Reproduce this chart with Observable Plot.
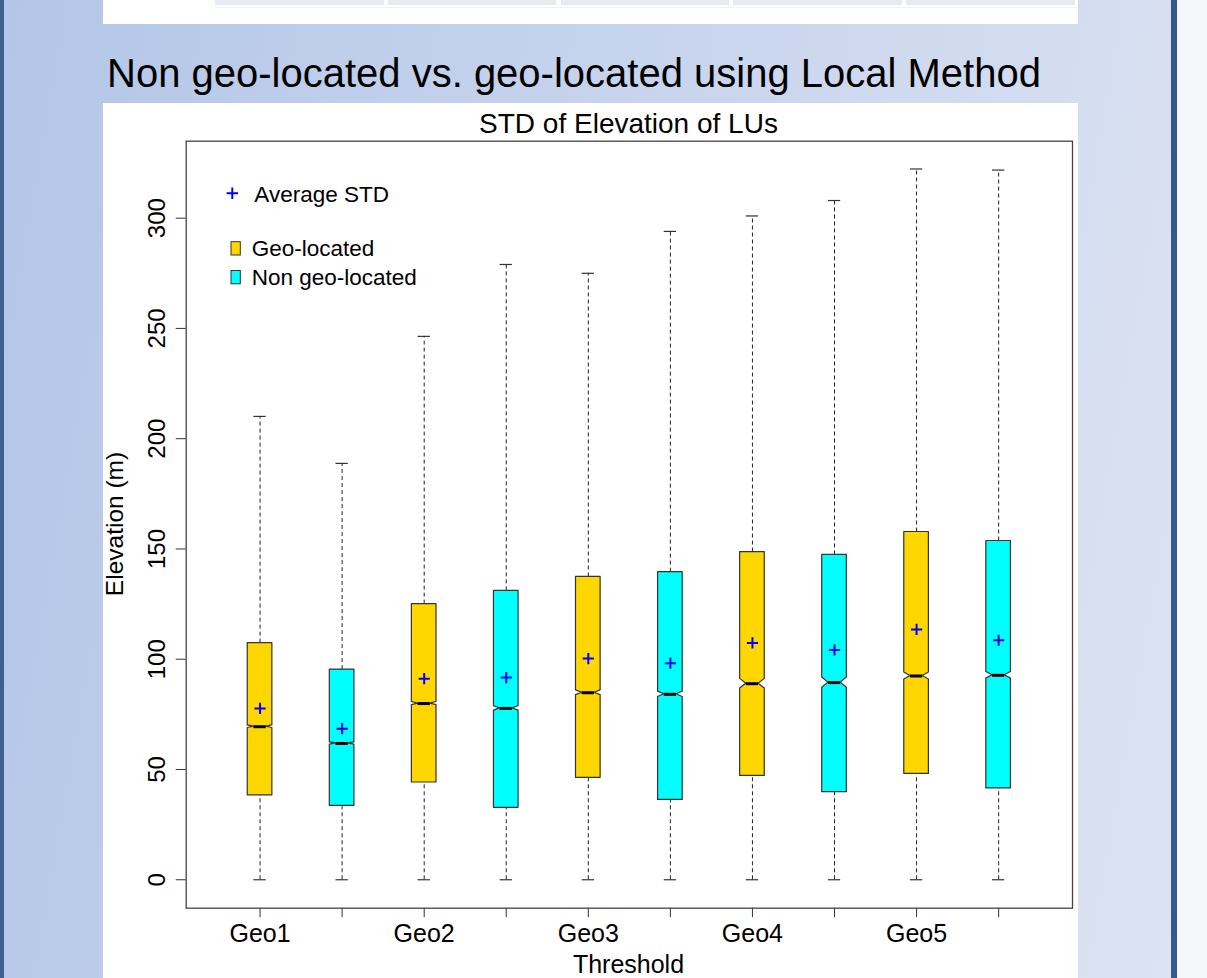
<!DOCTYPE html>
<html>
<head>
<meta charset="utf-8">
<script src="https://cdn.jsdelivr.net/npm/d3@7"></script>
<script src="https://cdn.jsdelivr.net/npm/@observablehq/plot@0.6"></script>
<style>
  html, body { margin: 0; padding: 0; }
  body {
    width: 1207px; height: 978px; overflow: hidden; position: relative;
    background: #f5f6f8;
    font-family: "Liberation Sans", Arial, sans-serif;
  }
  #slide {
    position: absolute; left: 0; top: 0; width: 1171px; height: 978px;
    background: linear-gradient(100deg, #b3c6e7 0%, #c6d3ed 45%, #dce3f2 100%);
  }
  #edgeL { position: absolute; left: 0; top: 0; width: 4px; height: 978px; background: #41608f; }
  #edgeR { position: absolute; left: 1171px; top: 0; width: 6px; height: 978px; background: #35598a; }
  #tablePanel { position: absolute; left: 103px; top: 0; width: 975px; height: 24px; background: #fff; }
  .cell { position: absolute; top: 0; height: 5px; background: #e6ebf3; }
  #tableRule { position: absolute; left: 112px; top: 7px; width: 862px; height: 1px; background: #eef1f6; }
  #chartPanel { position: absolute; left: 103px; top: 103px; width: 975px; height: 875px; background: #fff; }
  #chart { position: absolute; left: 103px; top: 103px; }
  #overlay { position: absolute; left: 0; top: 0; pointer-events: none; }
</style>
</head>
<body>
<div id="slide"></div>
<div id="edgeL"></div>
<div id="edgeR"></div>
<div id="tablePanel">
  <div class="cell" style="left:112px;width:169px"></div>
  <div class="cell" style="left:285px;width:168px"></div>
  <div class="cell" style="left:458px;width:168px"></div>
  <div class="cell" style="left:630px;width:169px"></div>
  <div class="cell" style="left:803px;width:169px"></div>
  <div id="tableRule"></div>
</div>
<div id="chartPanel"></div>
<div id="chart"></div>
<svg id="overlay" width="1207" height="978"></svg>

<script>
// Thresholds and the two groups compared at each one
const thresholds = ["Geo1", "Geo2", "Geo3", "Geo4", "Geo5"];
const seriesNames = ["Geo-located", "Non geo-located"];
const seriesColors = ["#FFD700", "#00FFFF"];

// Box statistics of the STD of elevation (m): whisker ends, quartiles, median, mean, notch half-height
const geoLower  = [0, 0, 0, 0, 0];
const geoQ1     = [38.3, 44.1, 46.2, 47.1, 48.0];
const geoMedian = [69.4, 79.9, 84.8, 88.9, 92.4];
const geoQ3     = [107.3, 125.0, 137.3, 148.6, 157.7];
const geoUpper  = [210.1, 246.4, 275.0, 301.0, 322.3];
const geoMean   = [77.7, 91.2, 100.3, 107.4, 113.5];
const geoNotch  = [0.6, 0.7, 1.1, 2.2, 1.6];

const nonLower  = [0, 0, 0, 0, 0];
const nonQ1     = [33.5, 32.6, 36.2, 39.7, 41.4];
const nonMedian = [61.8, 77.7, 84.1, 89.4, 92.7];
const nonQ3     = [95.3, 131.0, 139.5, 147.3, 153.6];
const nonUpper  = [188.8, 279.0, 294.0, 308.0, 321.8];
const nonMean   = [68.5, 91.7, 98.2, 104.2, 108.6];
const nonNotch  = [0.5, 1.0, 1.2, 2.3, 1.5];

const yTicks = [0, 50, 100, 150, 200, 250, 300];

// One row per box; boxes sit at slots 1..10, geo-located first at each threshold
const stats = [
  {lower: geoLower, q1: geoQ1, median: geoMedian, q3: geoQ3, upper: geoUpper, mean: geoMean, notch: geoNotch},
  {lower: nonLower, q1: nonQ1, median: nonMedian, q3: nonQ3, upper: nonUpper, mean: nonMean, notch: nonNotch}
];
const boxes = [];
thresholds.forEach((t, i) => {
  stats.forEach((s, j) => {
    boxes.push({
      id: `${t}-${j}`, threshold: t, series: seriesNames[j], pos: 2 * i + j + 1,
      lower: s.lower[i], q1: s.q1[i], median: s.median[i], q3: s.q3[i],
      upper: s.upper[i], mean: s.mean[i], notch: s.notch[i]
    });
  });
});

const halfBox = 0.15;   // half box width, in slot units
const halfCap = 0.075;  // half whisker-cap width

// Notched outline of each box: full width at the quartiles, pinched to half width at the median
const outline = boxes.flatMap(b => [
  {id: b.id, series: b.series, y: b.q1,               x1: b.pos - halfBox,     x2: b.pos + halfBox},
  {id: b.id, series: b.series, y: b.median - b.notch, x1: b.pos - halfBox,     x2: b.pos + halfBox},
  {id: b.id, series: b.series, y: b.median,           x1: b.pos - halfBox / 2, x2: b.pos + halfBox / 2},
  {id: b.id, series: b.series, y: b.median + b.notch, x1: b.pos - halfBox,     x2: b.pos + halfBox},
  {id: b.id, series: b.series, y: b.q3,               x1: b.pos - halfBox,     x2: b.pos + halfBox}
]);

const slots = d3.range(1, 2 * thresholds.length + 1);
const slotLabel = p => (p % 2 === 1 ? thresholds[(p - 1) / 2] : "");

const chart = Plot.plot({
  width: 975,
  height: 875,
  marginLeft: 82.7,
  marginRight: 6,
  marginTop: 37.7,
  marginBottom: 70.3,
  style: {
    fontFamily: '"Liberation Sans", Arial, sans-serif',
    fontSize: "24px",
    background: "white",
    color: "black",
    overflow: "visible"
  },
  x: {type: "linear", domain: [0.1, 10.9]},
  y: {domain: [-12.9, 334.9]},
  color: {domain: seriesNames, range: seriesColors},
  marks: [
    // dashed whiskers
    Plot.ruleX(boxes, {x: "pos", y1: "q3", y2: "upper", stroke: "#222", strokeDasharray: "4,3"}),
    Plot.ruleX(boxes, {x: "pos", y1: "lower", y2: "q1", stroke: "#222", strokeDasharray: "4,3"}),
    // whisker caps
    Plot.ruleY(boxes, {y: "upper", x1: d => d.pos - halfCap, x2: d => d.pos + halfCap, stroke: "#333", strokeWidth: 1.2}),
    Plot.ruleY(boxes, {y: "lower", x1: d => d.pos - halfCap, x2: d => d.pos + halfCap, stroke: "#333", strokeWidth: 1.2}),
    // notched boxes
    Plot.areaX(outline, {y: "y", x1: "x1", x2: "x2", z: "id", fill: "series", stroke: "#333", strokeWidth: 1.2}),
    // medians
    Plot.ruleY(boxes, {y: "median", x1: d => d.pos - halfBox / 2, x2: d => d.pos + halfBox / 2, stroke: "black", strokeWidth: 3}),
    // means
    Plot.dot(boxes, {x: "pos", y: "mean", symbol: "plus", r: 3.7, stroke: "#0000ff", strokeWidth: 2}),
    Plot.axisX({ticks: slots, tickFormat: slotLabel, tickSize: 9.5, tickPadding: 7, fontSize: 25, label: null, stroke: "#333"}),
    Plot.axisY({ticks: yTicks, tickRotate: -90, tickSize: 10, tickPadding: 11, label: null, stroke: "#333"}),
    Plot.frame({stroke: "#444", strokeWidth: 1.3})
  ]
});
document.getElementById("chart").append(chart);

// Titles, axis titles and legend
const svg = d3.select("#overlay")
  .attr("font-family", '"Liberation Sans", Arial, sans-serif')
  .attr("fill", "black");

svg.append("text").attr("x", 107).attr("y", 86.5).attr("font-size", 40)
  .text("Non geo-located vs. geo-located using Local Method");
svg.append("text").attr("x", 628.5).attr("y", 132.5).attr("font-size", 28).attr("text-anchor", "middle")
  .text("STD of Elevation of LUs");
svg.append("text").attr("x", 628.5).attr("y", 972.5).attr("font-size", 25).attr("text-anchor", "middle")
  .text("Threshold");
svg.append("text").attr("transform", "translate(123,524) rotate(-90)").attr("font-size", 24.5).attr("text-anchor", "middle")
  .text("Elevation (m)");

// legend
const legend = svg.append("g").attr("font-size", 22.5);
legend.append("path").attr("d", "M226.6,193.3H238M232.3,187.6V199")
  .attr("stroke", "#0000ff").attr("stroke-width", 2).attr("fill", "none");
legend.append("text").attr("x", 254.3).attr("y", 201.7).text("Average STD");
seriesNames.forEach((name, i) => {
  const top = 241.7 + i * 28.8;
  legend.append("rect").attr("x", 231).attr("y", top).attr("width", 9.3).attr("height", 13.3)
    .attr("fill", seriesColors[i]).attr("stroke", "#333").attr("stroke-width", 1);
  legend.append("text").attr("x", 251.7).attr("y", top + 14).text(name);
});
</script>
</body>
</html>
